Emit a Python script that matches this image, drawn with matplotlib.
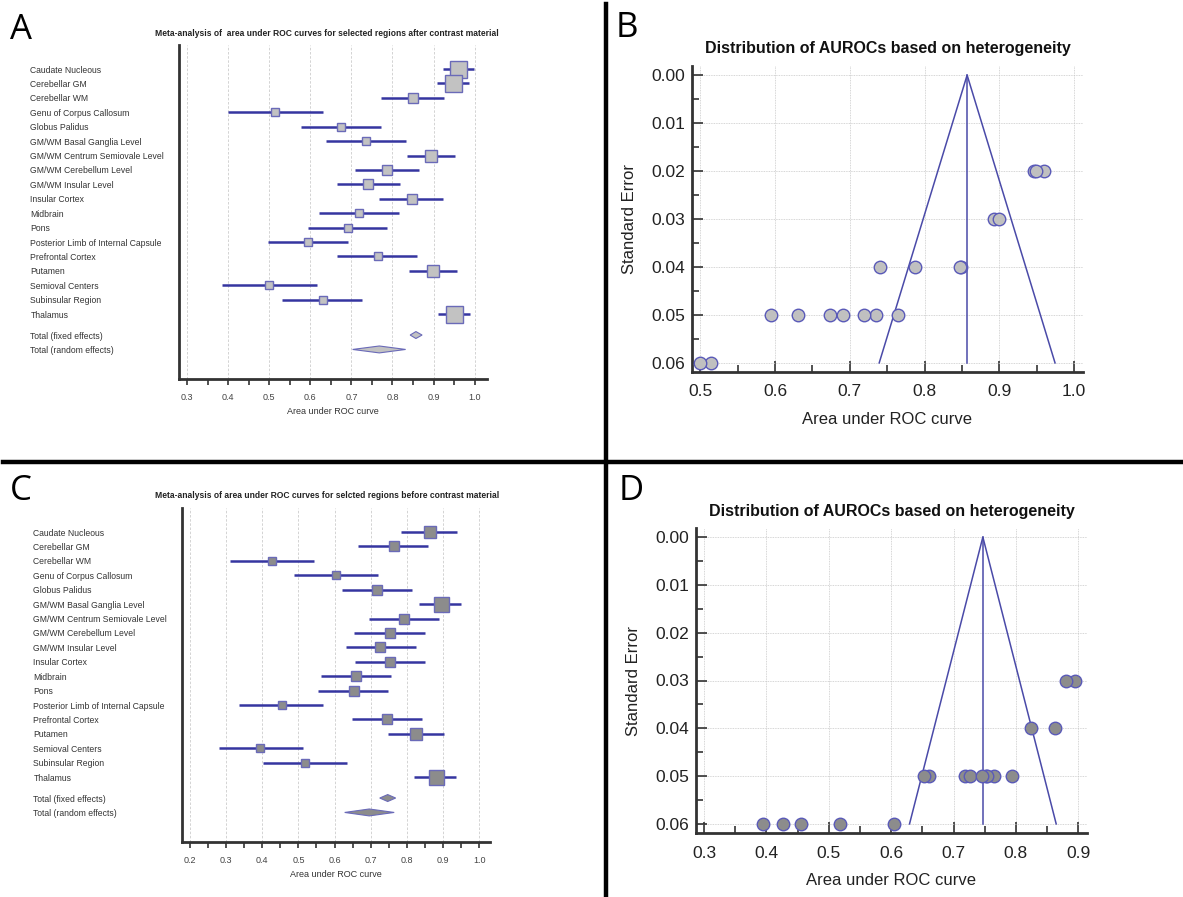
import numpy as np
import matplotlib
matplotlib.use("Agg")
import matplotlib.pyplot as plt
from matplotlib.patches import Polygon
from matplotlib.ticker import MultipleLocator

regions = ["Caudate Nucleous", "Cerebellar GM", "Cerebellar WM", "Genu of Corpus Callosum",
           "Globus Palidus", "GM/WM Basal Ganglia Level", "GM/WM Centrum Semiovale Level",
           "GM/WM Cerebellum Level", "GM/WM Insular Level", "Insular Cortex", "Midbrain", "Pons",
           "Posterior Limb of Internal Capsule", "Prefrontal Cortex", "Putamen",
           "Semioval Centers", "Subinsular Region", "Thalamus"]
total_labels = ["Total (fixed effects)", "Total (random effects)"]

# after contrast (A / B)
auc_post = [0.960, 0.947, 0.849, 0.515, 0.674, 0.735, 0.893, 0.787, 0.741, 0.847,
            0.719, 0.691, 0.595, 0.764, 0.899, 0.500, 0.631, 0.949]
lo_post = [0.922, 0.909, 0.771, 0.400, 0.577, 0.638, 0.835, 0.709, 0.664, 0.768,
           0.621, 0.595, 0.498, 0.666, 0.841, 0.384, 0.532, 0.911]
hi_post = [0.999, 0.986, 0.926, 0.632, 0.771, 0.832, 0.952, 0.864, 0.818, 0.924,
           0.816, 0.787, 0.692, 0.859, 0.956, 0.617, 0.727, 0.988]
se_post = [0.02, 0.02, 0.04, 0.06, 0.05, 0.05, 0.03, 0.04, 0.04, 0.04,
           0.05, 0.05, 0.05, 0.05, 0.03, 0.06, 0.05, 0.02]
fixed_post = [0.843, 0.857, 0.872]
random_post = [0.703, 0.768, 0.832]

# before contrast (C / D)
auc_pre = [0.863, 0.765, 0.427, 0.605, 0.718, 0.894, 0.793, 0.752, 0.727, 0.754,
           0.660, 0.653, 0.455, 0.746, 0.825, 0.395, 0.518, 0.881]
lo_pre = [0.784, 0.666, 0.310, 0.487, 0.620, 0.834, 0.694, 0.655, 0.631, 0.656,
          0.563, 0.555, 0.337, 0.649, 0.747, 0.279, 0.401, 0.820]
hi_pre = [0.940, 0.858, 0.544, 0.720, 0.814, 0.951, 0.889, 0.849, 0.824, 0.851,
          0.756, 0.749, 0.569, 0.843, 0.904, 0.512, 0.635, 0.937]
se_pre = [0.04, 0.05, 0.06, 0.06, 0.05, 0.03, 0.05, 0.05, 0.05, 0.05,
          0.05, 0.05, 0.06, 0.05, 0.04, 0.06, 0.06, 0.03]
fixed_pre = [0.725, 0.747, 0.769]
random_pre = [0.628, 0.696, 0.765]

line_col = "#3535a0"
edge_col = "#6a6ab8"
txt_col = "#333333"
W, H = 1183, 897

plt.rcParams["font.family"] = ["Liberation Sans", "DejaVu Sans"]
fig = plt.figure(figsize=(W / 100, H / 100), dpi=100)


def px_axes(l, t, r, b):
    return fig.add_axes([l / W, 1 - b / H, (r - l) / W, (b - t) / H])


def forest(ax, auc, lo, hi, se, fixed, rand, xmin, face, max_px, title, title_y):
    n = len(auc)
    rows = np.arange(n)
    y_fixed, y_rand = n + 0.45, n + 1.45
    se_min = min(se)
    ax.hlines(rows, lo, hi, color=line_col, lw=1.8, zorder=2)
    for y, a, s in zip(rows, auc, se):
        ms = max_px * 0.72 * (se_min / s) ** 0.8
        ax.plot(a, y, marker="s", ms=ms, mfc=face, mec=edge_col, mew=1.0, zorder=3)
    for y, (l, c, h) in [(y_fixed, fixed), (y_rand, rand)]:
        ax.add_patch(Polygon([(l, y), (c, y - 0.24), (h, y), (c, y + 0.24)], closed=True,
                             fc=face, ec=edge_col, lw=0.8, zorder=3))
    ax.set_yticks(list(rows) + [y_fixed, y_rand], regions + total_labels)
    for t in ax.get_yticklabels():
        t.set_ha("left")
    ax.tick_params(axis="y", length=0, pad=107, labelsize=6.2, labelcolor=txt_col)
    ax.set_ylim(21.5, -1.67)
    ax.set_xlim(xmin - 0.0195 if xmin == 0.3 else xmin - 0.022, 1.03)
    ax.xaxis.set_minor_locator(MultipleLocator(0.05))
    ticks = np.round(np.arange(xmin, 1.0001, 0.1), 1)
    ax.set_xticks(ticks, [f"{v:.1f}" for v in ticks])
    ax.tick_params(axis="x", which="both", direction="out", length=4, width=1.2,
                   color=txt_col, labelsize=6.5, labelcolor="#444444", pad=6)
    ax.grid(axis="x", which="major", ls=(0, (3, 2)), lw=0.6, color="#cccccc")
    ax.set_axisbelow(True)
    for s in ["top", "right"]:
        ax.spines[s].set_visible(False)
    for s in ["left", "bottom"]:
        ax.spines[s].set_linewidth(2)
        ax.spines[s].set_color(txt_col)
    ax.set_xlabel("Area under ROC curve", fontsize=6.5, color=txt_col, labelpad=4)
    fig.text(327 / W, 1 - title_y / H, title, ha="center", va="center",
             fontsize=6.15, fontweight="bold", color="#222222")


def funnel(ax, auc, se, center, xlim, face, title, title_y, title_x):
    se_max = 0.06
    ax.plot([center - 1.96 * se_max, center, center + 1.96 * se_max], [se_max, 0, se_max],
            color="#4a4aa8", lw=1.1, zorder=2)
    ax.plot([center, center], [0, se_max], color="#4a4aa8", lw=1.1, zorder=2)
    ax.plot(auc, se, "o", ms=9, mfc=face, mec="#5a5ab8", mew=1.0, ls="none", zorder=3)
    ax.set_xlim(*xlim)
    ax.set_ylim(0.0619, -0.0019)
    ax.xaxis.set_major_locator(MultipleLocator(0.1))
    ax.xaxis.set_minor_locator(MultipleLocator(0.05))
    ax.yaxis.set_major_locator(MultipleLocator(0.01))
    ax.yaxis.set_minor_locator(MultipleLocator(0.005))
    ax.xaxis.set_major_formatter(lambda v, p: f"{v:.1f}")
    ax.yaxis.set_major_formatter(lambda v, p: f"{v:.2f}")
    ax.tick_params(which="major", direction="in", length=8, width=1.2, color=txt_col,
                   labelsize=12.5, labelcolor="#222222")
    ax.tick_params(which="minor", direction="in", length=5, width=1.2, color=txt_col)
    ax.tick_params(axis="y", pad=5)
    ax.tick_params(axis="x", pad=9)
    ax.grid(which="major", ls=(0, (1, 1)), lw=0.6, color="#c8c8c8")
    ax.set_axisbelow(True)
    for s in ["top", "right"]:
        ax.spines[s].set_visible(False)
    for s in ["left", "bottom"]:
        ax.spines[s].set_linewidth(2)
        ax.spines[s].set_color(txt_col)
    ax.set_xlabel("Area under ROC curve", fontsize=12, color="#222222", labelpad=9)
    ax.set_ylabel("Standard Error", fontsize=12, color="#222222", labelpad=10)
    fig.text(title_x / W, 1 - title_y / H, title, ha="center", va="center",
             fontsize=11.5, fontweight="bold", color="#111111")


axA = px_axes(179, 45, 487, 379)
forest(axA, auc_post, lo_post, hi_post, se_post, fixed_post, random_post, 0.3, "#c2c2c2", 17,
       "Meta-analysis of  area under ROC curves for selected regions after contrast material", 33)

axC = px_axes(182, 508, 490, 842)
forest(axC, auc_pre, lo_pre, hi_pre, se_pre, fixed_pre, random_pre, 0.2, "#8c8c8c", 15,
       "Meta-analysis of area under ROC curves for selcted regions before contrast material", 495)

axB = px_axes(692, 66, 1083, 372)
funnel(axB, auc_post, se_post, fixed_post[1], (0.489, 1.012), "#c0c0c0",
       "Distribution of AUROCs based on heterogeneity", 49, 888)

axD = px_axes(696, 528, 1087, 833)
funnel(axD, auc_pre, se_pre, fixed_pre[1], (0.287, 0.914), "#8c8c8c",
       "Distribution of AUROCs based on heterogeneity", 511, 892)

# panel letters and dividers
for letter, x, y in [("A", 10, 30), ("B", 616, 28), ("C", 10, 491), ("D", 619, 491)]:
    fig.text(x / W, 1 - y / H, letter, fontsize=25, va="center", ha="left",
             family="Open Sans", color="black")
fig.add_artist(plt.Line2D([606 / W, 606 / W], [0, 1 - 4 / H], color="black", lw=3.2,
                          transform=fig.transFigure))
fig.add_artist(plt.Line2D([3 / W, 1], [1 - 462 / H, 1 - 462 / H], color="black", lw=3.2,
                          transform=fig.transFigure))

fig.savefig("out.png", dpi=100)
